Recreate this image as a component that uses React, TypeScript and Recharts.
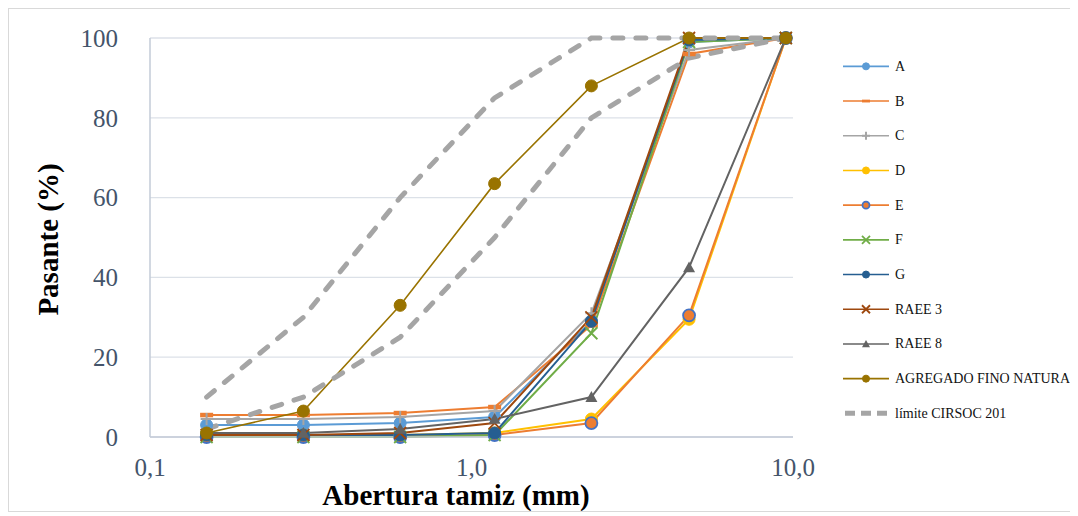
import React from 'react';
import { LineChart, Line, XAxis, YAxis, CartesianGrid, Legend, Label } from 'recharts';

// aberturas de tamiz (mm)
const sieves = [0.15, 0.3, 0.6, 1.18, 2.36, 4.75, 9.5];

// % pasante por serie
const serieA = [3, 3, 3.5, 5, 29, 99, 100];
const serieB = [5.5, 5.5, 6, 7.5, 28, 96, 100];
const serieC = [4.5, 4.5, 5, 6.5, 31, 97, 100];
const serieD = [0.5, 0.5, 0.5, 1, 4.5, 29.5, 100];
const serieE = [0, 0, 0, 0.5, 3.5, 30.5, 100];
const serieF = [0, 0, 0, 0.5, 26, 99, 100];
const serieG = [0.5, 0.5, 0.5, 1, 29, 99.5, 100];
const raee3 = [0.5, 0.5, 1, 3.5, 30, 100, 100];
const raee8 = [1, 1, 2, 4.5, 10, 42.5, 100];
const agregadoFino = [1, 6.5, 33, 63.5, 88, 100, 100];
const limiteSup = [10, 30, 60, 85, 100, 100, 100];
const limiteInf = [2, 10, 25, 50, 80, 95, 100];

const xTicks = [0.1, 1, 10];
const yTicks = [0, 20, 40, 60, 80, 100];

const data = sieves.map((s, i) => ({
  abertura: s,
  A: serieA[i],
  B: serieB[i],
  C: serieC[i],
  D: serieD[i],
  E: serieE[i],
  F: serieF[i],
  G: serieG[i],
  R3: raee3[i],
  R8: raee8[i],
  AFN: agregadoFino[i],
  limSup: limiteSup[i],
  limInf: limiteInf[i],
}));

type MarkerKind = 'circle' | 'dash' | 'plus' | 'x' | 'triangle' | 'ringed';

const series: { key: string; name: string; color: string; marker: MarkerKind; width: number }[] = [
  { key: 'A', name: 'A', color: '#5b9bd5', marker: 'circle', width: 2 },
  { key: 'B', name: 'B', color: '#ed7d31', marker: 'dash', width: 2 },
  { key: 'C', name: 'C', color: '#a5a5a5', marker: 'plus', width: 2 },
  { key: 'D', name: 'D', color: '#ffc000', marker: 'circle', width: 2 },
  { key: 'E', name: 'E', color: '#ed7d31', marker: 'ringed', width: 2 },
  { key: 'F', name: 'F', color: '#70ad47', marker: 'x', width: 2 },
  { key: 'G', name: 'G', color: '#255e91', marker: 'circle', width: 2 },
  { key: 'R3', name: 'RAEE 3', color: '#9e480e', marker: 'x', width: 2 },
  { key: 'R8', name: 'RAEE 8', color: '#636363', marker: 'triangle', width: 2 },
  { key: 'AFN', name: 'AGREGADO FINO NATURAL', color: '#997300', marker: 'circle', width: 1.6 },
];

const LIMIT_COLOR = '#a5a5a5';
const TICK_COLOR = '#44546a';
const FONT = 'Liberation Serif';

function marker(kind: MarkerKind, cx: number, cy: number, r: number, color: string, key?: string) {
  switch (kind) {
    case 'circle':
      return <circle key={key} cx={cx} cy={cy} r={r} fill={color} stroke={color} strokeWidth={1} />;
    case 'ringed':
      return <circle key={key} cx={cx} cy={cy} r={r} fill={color} stroke="#4472c4" strokeWidth={1.8} />;
    case 'dash':
      return <rect key={key} x={cx - r} y={cy - r * 0.35} width={r * 2} height={r * 0.7} fill={color} />;
    case 'plus':
      return (
        <path key={key} d={`M${cx - r},${cy}H${cx + r}M${cx},${cy - r}V${cy + r}`} stroke={color} strokeWidth={2} fill="none" />
      );
    case 'x':
      return (
        <path
          key={key}
          d={`M${cx - r},${cy - r}L${cx + r},${cy + r}M${cx - r},${cy + r}L${cx + r},${cy - r}`}
          stroke={color}
          strokeWidth={1.8}
          fill="none"
        />
      );
    case 'triangle':
      return <path key={key} d={`M${cx},${cy - r}L${cx + r},${cy + r * 0.8}L${cx - r},${cy + r * 0.8}Z`} fill={color} />;
  }
  return null;
}

// leyenda dibujada en svg para usar la misma fuente que los ejes
function LegendBox() {
  const rowH = 34.7;
  const rows = series.length + 1;
  return (
    <svg width={284} height={rows * rowH} style={{ display: 'block', overflow: 'visible' }}>
      {series.map((s, i) => {
        const y = i * rowH + rowH / 2;
        return (
          <g key={s.key}>
            <line x1={50} y1={y} x2={96} y2={y} stroke={s.color} strokeWidth={1.6} />
            {marker(s.marker, 73, y, s.marker === 'circle' || s.marker === 'ringed' ? 3.5 : 4, s.color)}
            <text x={102} y={y} dominantBaseline="central" fontFamily={FONT} fontSize={14} fill="#111">
              {s.name}
            </text>
          </g>
        );
      })}
      <g>
        <line
          x1={52}
          y1={series.length * rowH + rowH / 2}
          x2={94}
          y2={series.length * rowH + rowH / 2}
          stroke={LIMIT_COLOR}
          strokeWidth={5}
          strokeDasharray="10 6"
        />
        <text x={102} y={series.length * rowH + rowH / 2} dominantBaseline="central" fontFamily={FONT} fontSize={14} fill="#111">
          límite CIRSOC 201
        </text>
      </g>
    </svg>
  );
}

export default function App() {
  return (
    <div style={{ width: 1068, height: 502, border: '1px solid #d9d9d9', overflow: 'hidden', background: '#fff' }}>
      <LineChart width={1068} height={502} data={data} margin={{ top: 29, right: 0, bottom: 0, left: 0 }}>
        <CartesianGrid vertical={false} stroke="#dce1e8" strokeWidth={1.3} />
        <XAxis
          dataKey="abertura"
          type="number"
          scale="log"
          domain={[0.1, 10]}
          ticks={xTicks}
          allowDataOverflow
          height={74}
          axisLine={{ stroke: '#c3cbd7', strokeWidth: 1.5 }}
          tickLine={false}
          tickSize={0}
          tickMargin={21}
          tick={{ fill: TICK_COLOR, fontSize: 25, fontFamily: FONT }}
          tickFormatter={(v: number) => v.toFixed(1).replace('.', ',')}
        >
          <Label
            content={(p: any) => {
              const vb = p.viewBox || { x: 141, y: 428 };
              return (
                <text
                  x={vb.x + 306}
                  y={vb.y + 58}
                  textAnchor="middle"
                  dominantBaseline="central"
                  fontFamily={FONT}
                  fontWeight="bold"
                  fontSize={29}
                  fill="#000"
                >
                  Abertura tamiz (mm)
                </text>
              );
            }}
          />
        </XAxis>
        <YAxis
          type="number"
          domain={[0, 100]}
          ticks={yTicks}
          width={141}
          axisLine={{ stroke: '#c3cbd7', strokeWidth: 1.5 }}
          tickLine={false}
          tickSize={0}
          tickMargin={32}
          tick={{ fill: TICK_COLOR, fontSize: 25, fontFamily: FONT }}
        >
          <Label
            content={(p: any) => {
              const vb = p.viewBox || { x: 0, y: 29, height: 399 };
              const cx = vb.x + 39;
              const cy = vb.y + vb.height / 2 + 2;
              return (
                <text
                  x={cx}
                  y={cy}
                  transform={`rotate(-90, ${cx}, ${cy})`}
                  textAnchor="middle"
                  dominantBaseline="central"
                  fontFamily={FONT}
                  fontWeight="bold"
                  fontSize={29}
                  fill="#000"
                >
                  Pasante (%)
                </text>
              );
            }}
          />
        </YAxis>
        <Legend
          layout="vertical"
          align="right"
          verticalAlign="top"
          wrapperStyle={{ top: 40, width: 284 }}
          content={() => <LegendBox />}
        />
        {series.map((s) => (
          <Line
            key={s.key}
            dataKey={s.key}
            name={s.name}
            type="linear"
            stroke={s.color}
            strokeWidth={s.width}
            isAnimationActive={false}
            dot={(p: any) => marker(s.marker, p.cx, p.cy, s.marker === 'dash' ? 6.5 : 6, s.color, `${s.key}-${p.index}`)}
            activeDot={false}
          />
        ))}
        <Line
          dataKey="limSup"
          name="límite CIRSOC 201"
          type="linear"
          stroke={LIMIT_COLOR}
          strokeWidth={5}
          strokeDasharray="10 13"
          strokeLinecap="round"
          dot={false}
          activeDot={false}
          isAnimationActive={false}
        />
        <Line
          dataKey="limInf"
          name="límite CIRSOC 201 inf"
          legendType="none"
          type="linear"
          stroke={LIMIT_COLOR}
          strokeWidth={5}
          strokeDasharray="10 13"
          strokeLinecap="round"
          dot={false}
          activeDot={false}
          isAnimationActive={false}
        />
      </LineChart>
    </div>
  );
}
